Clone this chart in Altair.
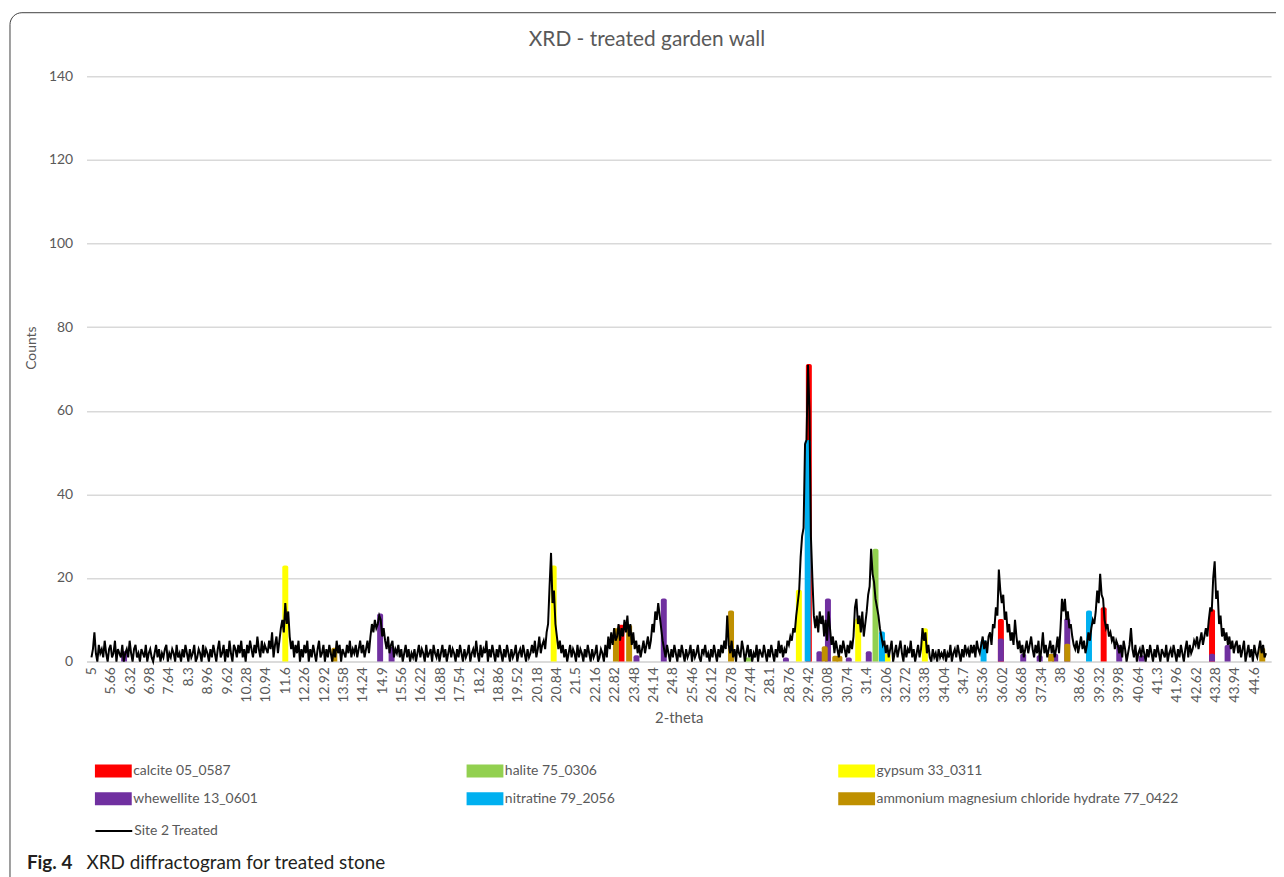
import altair as alt
import pandas as pd

# ---------------- data ----------------
# measured diffractogram, 2-theta from 5.00 in 0.05 steps (values read off the picture),
# one row of 20 readings per degree
two_theta_start = 5.0
two_theta_step = 0.05
counts_05 = [1, 3, 7, 2, 0, 4, 2, 3, 1, 5, 2, 0, 3, 4, 1, 2, 5, 0, 3, 2]
counts_06 = [1, 4, 0, 2, 3, 1, 5, 2, 0, 3, 4, 1, 2, 0, 3, 2, 1, 4, 0, 2]
counts_07 = [3, 1, 0, 2, 4, 1, 3, 0, 2, 1, 3, 4, 0, 2, 1, 3, 2, 0, 4, 1]
counts_08 = [2, 0, 3, 1, 4, 2, 0, 3, 1, 2, 4, 0, 1, 3, 2, 0, 4, 1, 3, 2]
counts_09 = [0, 3, 1, 4, 2, 0, 3, 5, 1, 2, 4, 0, 3, 1, 5, 2, 0, 4, 3, 1]
counts_10 = [4, 2, 5, 1, 3, 0, 4, 2, 5, 3, 1, 4, 2, 6, 3, 1, 5, 2, 4, 3]
counts_11 = [2, 5, 3, 7, 1, 4, 6, 2, 5, 8, 10, 7, 14, 9, 12, 6, 3, 5, 1, 4]
counts_12 = [2, 5, 0, 3, 1, 4, 2, 5, 0, 3, 1, 4, 2, 0, 3, 5, 1, 2, 4, 0]
counts_13 = [3, 1, 4, 2, 0, 3, 1, 5, 2, 4, 0, 3, 2, 1, 4, 2, 5, 1, 3, 2]
counts_14 = [4, 1, 3, 5, 2, 4, 1, 3, 5, 2, 6, 9, 7, 10, 8, 9, 11, 10, 6, 8]
counts_15 = [5, 3, 6, 2, 4, 5, 1, 3, 2, 4, 1, 3, 0, 2, 4, 1, 3, 0, 2, 1]
counts_16 = [3, 0, 2, 4, 1, 3, 2, 0, 4, 1, 2, 3, 0, 4, 2, 1, 3, 0, 2, 4]
counts_17 = [1, 3, 0, 2, 4, 1, 3, 2, 0, 3, 1, 4, 2, 0, 3, 1, 2, 4, 0, 2]
counts_18 = [3, 1, 5, 2, 0, 4, 1, 3, 2, 5, 0, 3, 1, 4, 2, 0, 3, 1, 4, 2]
counts_19 = [0, 3, 1, 4, 2, 0, 3, 1, 2, 4, 0, 2, 3, 1, 4, 2, 0, 3, 1, 2]
counts_20 = [4, 2, 5, 1, 3, 6, 2, 4, 5, 3, 7, 9, 18, 26, 14, 17, 9, 6, 3, 5]
counts_21 = [2, 4, 1, 3, 0, 2, 4, 1, 3, 2, 0, 4, 1, 3, 2, 0, 3, 1, 4, 2]
counts_22 = [0, 3, 1, 2, 4, 0, 1, 3, 2, 0, 4, 1, 6, 3, 7, 4, 8, 5, 6, 9]
counts_23 = [5, 8, 6, 10, 7, 11, 6, 9, 4, 7, 3, 5, 2, 4, 1, 3, 5, 2, 4, 6]
counts_24 = [3, 5, 9, 7, 12, 10, 14, 11, 8, 5, 3, 1, 4, 2, 0, 3, 1, 4, 2, 0]
counts_25 = [3, 1, 4, 2, 0, 3, 1, 2, 4, 0, 3, 1, 2, 4, 1, 0, 3, 2, 4, 1]
counts_26 = [2, 0, 3, 1, 4, 2, 0, 3, 1, 4, 2, 5, 3, 11, 4, 2, 5, 1, 3, 0]
counts_27 = [4, 2, 1, 5, 3, 0, 2, 4, 1, 3, 0, 2, 1, 4, 0, 3, 2, 1, 4, 2]
counts_28 = [0, 3, 1, 4, 2, 0, 3, 1, 5, 2, 4, 1, 3, 2, 5, 4, 6, 5, 8, 7]
counts_29 = [11, 14, 17, 25, 30, 32, 52, 53, 71, 60, 30, 20, 11, 8, 11, 7, 12, 9, 11, 6]
counts_30 = [10, 5, 12, 8, 4, 6, 2, 5, 3, 1, 4, 2, 5, 3, 1, 4, 2, 5, 3, 6]
counts_31 = [13, 15, 9, 11, 7, 12, 6, 9, 12, 16, 18, 27, 21, 19, 15, 13, 11, 8, 6, 4]
counts_32 = [5, 2, 4, 1, 3, 5, 0, 2, 4, 1, 3, 5, 2, 0, 4, 1, 3, 2, 5, 1]
counts_33 = [3, 0, 2, 4, 1, 3, 8, 5, 7, 2, 4, 1, 0, 3, 1, 2, 0, 3, 1, 2]
counts_34 = [1, 3, 0, 2, 1, 4, 0, 2, 3, 1, 4, 2, 0, 3, 1, 4, 2, 3, 1, 4]
counts_35 = [2, 4, 1, 5, 3, 2, 4, 6, 3, 5, 2, 6, 7, 4, 9, 8, 13, 11, 22, 17]
counts_36 = [14, 16, 10, 12, 7, 9, 5, 7, 4, 10, 6, 3, 5, 2, 4, 1, 3, 5, 2, 4]
counts_37 = [6, 3, 1, 4, 2, 5, 0, 3, 7, 2, 4, 1, 3, 5, 2, 4, 1, 3, 6, 2]
counts_38 = [8, 15, 12, 15, 10, 12, 8, 9, 6, 4, 3, 5, 2, 4, 6, 3, 5, 2, 4, 7]
counts_39 = [5, 8, 10, 9, 12, 17, 14, 21, 16, 15, 10, 8, 9, 6, 7, 5, 6, 3, 5, 4]
counts_40 = [2, 4, 1, 5, 3, 0, 2, 4, 8, 3, 1, 4, 0, 2, 3, 1, 4, 2, 0, 3]
counts_41 = [1, 4, 2, 0, 3, 1, 4, 2, 0, 3, 2, 1, 4, 0, 2, 3, 1, 4, 2, 0]
counts_42 = [3, 1, 4, 2, 0, 3, 5, 1, 4, 2, 3, 5, 4, 6, 3, 5, 7, 4, 6, 8]
counts_43 = [6, 10, 13, 12, 20, 24, 15, 17, 9, 11, 6, 8, 5, 7, 4, 6, 3, 5, 2, 4]
counts_44 = [5, 2, 4, 1, 3, 5, 0, 2, 4, 1, 3, 0, 4, 2, 1, 3, 5, 2, 4, 1]
counts_45 = [2]
count_rows = [counts_05, counts_06, counts_07, counts_08, counts_09, counts_10, counts_11,
              counts_12, counts_13, counts_14, counts_15, counts_16, counts_17, counts_18,
              counts_19, counts_20, counts_21, counts_22, counts_23, counts_24, counts_25,
              counts_26, counts_27, counts_28, counts_29, counts_30, counts_31, counts_32,
              counts_33, counts_34, counts_35, counts_36, counts_37, counts_38, counts_39,
              counts_40, counts_41, counts_42, counts_43, counts_44, counts_45]
counts = [v for row in count_rows for v in row]
two_theta = [round(two_theta_start + two_theta_step * i, 2) for i in range(len(counts))]
series_name = "Site 2 Treated"

# reference patterns (stick positions and heights)
phases = ["calcite 05_0587", "halite 75_0306", "gypsum 33_0311",
          "whewellite 13_0601", "nitratine 79_2056",
          "ammonium magnesium chloride hydrate  77_0422"]
phase_colors = ["#FF0000", "#92D050", "#FFFF00", "#7030A0", "#00B0F0", "#BF9000"]

calcite_pos = [23.05, 29.43, 35.97, 39.47, 43.16]
calcite_int = [8.8, 71.2, 10.2, 13.0, 12.5]
halite_pos = [27.36, 31.70]
halite_int = [1.0, 27.0]
gypsum_pos = [11.60, 20.74, 29.09, 31.11, 32.11, 33.38]
gypsum_int = [23.0, 23.0, 17.2, 10.4, 1.9, 8.0]
whewellite_pos = [6.11, 14.83, 15.22, 23.56, 24.49, 28.65, 29.79, 30.08, 30.79, 31.47,
                  35.97, 36.73, 37.29, 37.82, 38.23, 40.00, 40.76, 43.16, 43.69]
whewellite_int = [2.5, 11.5, 3.5, 1.5, 15.1, 1.0, 2.5, 15.1, 1.0, 2.5,
                  5.5, 1.9, 1.5, 1.9, 10.4, 4.0, 1.5, 1.9, 4.0]
nitratine_pos = [29.39, 31.92, 35.38, 38.97]
nitratine_int = [53.0, 7.2, 5.1, 12.2]
ammonium_pos = [13.27, 22.86, 23.31, 26.78, 29.97, 30.33, 30.47, 37.68, 38.23, 44.87]
ammonium_int = [3.3, 8.0, 8.8, 12.2, 3.7, 1.4, 1.4, 1.9, 4.3, 3.3]

x_tick_values = [round(5 + 0.66 * k, 2) for k in range(61)]
y_tick_values = [0, 20, 40, 60, 80, 100, 120, 140]

title_text = "XRD - treated garden wall"
x_title = "2-theta"
y_title = "Counts"
caption_bold = "Fig. 4"
caption_text = "XRD diffractogram for treated stone"

# ---------------- tables ----------------
line_df = pd.DataFrame({"two_theta": two_theta, "counts": counts, "series": series_name})

rows = []
for name, pos, inten in zip(phases,
                            [calcite_pos, halite_pos, gypsum_pos, whewellite_pos, nitratine_pos, ammonium_pos],
                            [calcite_int, halite_int, gypsum_int, whewellite_int, nitratine_int, ammonium_int]):
    for p, h in zip(pos, inten):
        rows.append({"phase": name, "pos": p, "height": h})
bar_df = pd.DataFrame(rows)

FONT = "Lato"
GRAY = "#595959"
PLOT_W = 1192
PLOT_H = 589

x_scale = alt.Scale(domain=[5, 45], nice=False, zero=False)
y_scale = alt.Scale(domain=[0, 140], nice=False)

x_axis = alt.Axis(values=x_tick_values, labelAngle=270,
                  labelExpr="toString(round(datum.value*100)/100)",
                  labelFontSize=14, labelColor=GRAY, labelFont=FONT, labelPadding=5,
                  labelOverlap=False, labelFlush=False, labelBound=False,
                  ticks=False, grid=False, domain=True, domainColor="#d9d9d9", domainWidth=1.5,
                  title=x_title, titleFontSize=15, titleColor=GRAY, titleFont=FONT,
                  titleFontWeight="normal", titlePadding=8)
y_axis = alt.Axis(values=y_tick_values, labelFontSize=14, labelColor=GRAY, labelFont=FONT,
                  labelPadding=14, ticks=False, domain=False, grid=True,
                  gridColor="#d9d9d9", gridWidth=1.5,
                  title=y_title, titleFontSize=14, titleColor=GRAY, titleFont=FONT,
                  titleFontWeight="normal", titleX=-55, titleY=273,
                  titleBaseline="middle", titleAngle=270)

SWATCH = "M-2.85,-1L2.85,-1L2.85,1L-2.85,1Z"
LINE_SW = "M-2.85,0L2.85,0"

bars = alt.Chart(bar_df).mark_bar(size=6, cornerRadiusTopLeft=2, cornerRadiusTopRight=2).encode(
    x=alt.X("pos:Q", scale=x_scale, axis=x_axis),
    y=alt.Y("height:Q", scale=y_scale, axis=y_axis, stack=None),
    fill=alt.Fill("phase:N", scale=alt.Scale(domain=phases, range=phase_colors),
                  legend=alt.Legend(title=None, orient="none", legendX=20, legendY=692,
                                    columns=3, direction="horizontal",
                                    symbolType=SWATCH, symbolSize=169, symbolStrokeWidth=0,
                                    symbolOpacity=1,
                                    labelOffset=13, labelFontSize=14, labelColor=GRAY,
                                    labelFont=FONT, labelLimit=500, columnPadding=27,
                                    rowPadding=14, gridAlign="all", padding=0)),
)

line = alt.Chart(line_df).mark_line(strokeWidth=2.0, interpolate="linear").encode(
    x=alt.X("two_theta:Q", scale=x_scale, axis=x_axis),
    y=alt.Y("counts:Q", scale=y_scale, axis=y_axis),
    stroke=alt.Stroke("series:N", scale=alt.Scale(domain=[series_name], range=["#000000"]),
                      legend=alt.Legend(title=None, orient="none", legendX=20, legendY=752,
                                        symbolType=LINE_SW, symbolSize=169, symbolStrokeWidth=2,
                                        labelOffset=13, labelFontSize=14, labelColor=GRAY,
                                        labelFont=FONT, padding=0)),
)

one = pd.DataFrame({"k": [0]})
frame = alt.Chart(one).mark_rect(fill=None, stroke="#404040", strokeWidth=1,
                                 cornerRadius=12).encode(
    x=alt.value(-77), x2=alt.value(1240), y=alt.value(-64), y2=alt.value(850))

title_mark = alt.Chart(one).mark_text(text=title_text, font=FONT, fontSize=21, color=GRAY,
                                      align="center", baseline="alphabetic").encode(
    x=alt.value(564), y=alt.value(-30))

cap1 = alt.Chart(one).mark_text(text=caption_bold, font=FONT, fontSize=19, fontWeight="bold",
                                color="#231f20", align="left", baseline="alphabetic").encode(
    x=alt.value(-60), y=alt.value(798))
cap2 = alt.Chart(one).mark_text(text=caption_text, font=FONT, fontSize=19,
                                color="#231f20", align="left", baseline="alphabetic").encode(
    x=alt.value(0), y=alt.value(798))

chart = alt.layer(frame, bars, line, title_mark, cap1, cap2).properties(
    width=PLOT_W, height=PLOT_H,
    autosize=alt.AutoSizeParams(type="none"),
    padding={"left": 79, "top": 66, "right": 5, "bottom": 214},
).resolve_scale(fill="independent", stroke="independent").configure_view(stroke=None)

chart.save("out.html", embed_options={"renderer": "svg", "actions": False})
